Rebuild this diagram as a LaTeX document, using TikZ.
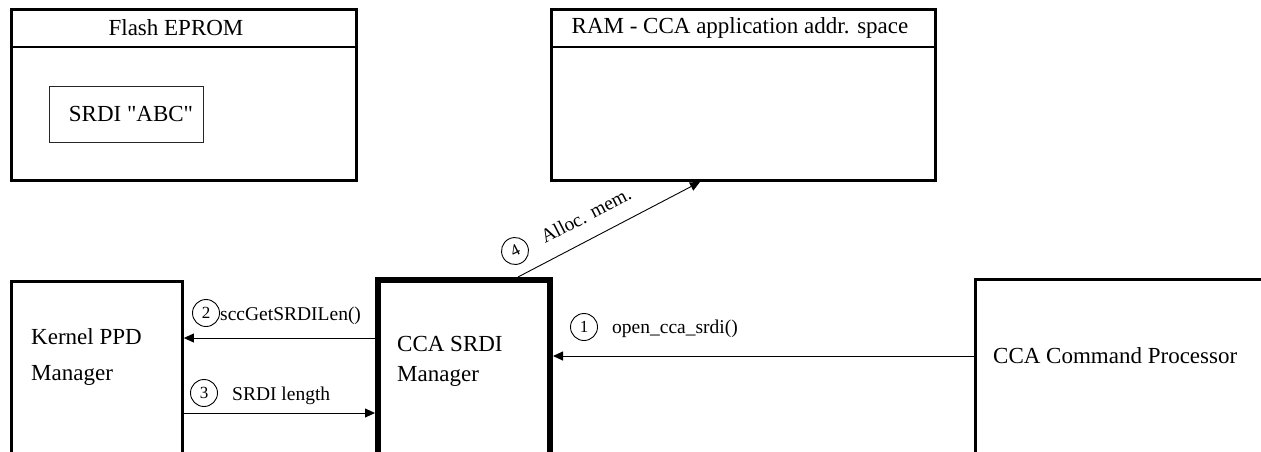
\documentclass[tikz,border=0pt]{standalone}
\usepackage{fontspec}
\setmainfont{Liberation Serif}
\usetikzlibrary{arrows.meta}
\begin{document}
\begin{tikzpicture}[x=1pt,y=-1pt,
  box/.style={draw,line width=2.8pt,inner sep=0pt},
  big/.style={font=\fontsize{23}{27}\selectfont,inner sep=0pt},
  lbl/.style={font=\fontsize{19.5}{23}\selectfont,inner sep=0pt},
  num/.style={circle,draw,line width=0.9pt,minimum size=27pt,inner sep=0pt,font=\fontsize{17}{19}\selectfont},
  arr/.style={line width=0.9pt,-{Triangle[length=10pt,width=9pt]}},
  hdr/.style={line width=1.5pt}
]
\useasboundingbox (0,0) rectangle (1261,451);
\clip (0,0) rectangle (1261,451);
% boxes
\node[box,minimum width=345pt,minimum height=171pt] (flash) at (184,95) {};
\node[box,minimum width=384pt,minimum height=171pt] (ram) at (743.5,95) {};
\node[draw,line width=1pt,draw=black!85,minimum width=154pt,minimum height=56pt,inner sep=0pt] (abc) at (126.5,114.5) {};
\node[box,minimum width=171pt,minimum height=190pt] (kernel) at (97,376.5) {};
\node[box,line width=6pt,minimum width=172pt,minimum height=190pt] (mgr) at (464,375) {};
\node[box,minimum width=300pt,minimum height=191pt] (cmd) at (1125.5,375) {};
% header lines
\coordinate (hy) at (0,47);
\draw[hdr] (flash.west |- hy) -- (flash.east |- hy);
\draw[hdr] (ram.west |- hy) -- (ram.east |- hy);
% texts
\node[big] (tflash) at (176,28) {Flash EPROM};
\node[big] (tram) at (740,28) {RAM - CCA application addr. space};
\node[big] (tabc) at (131,114) {SRDI \textquotedbl ABC\textquotedbl};
\node[big,anchor=base west] (tk1) at (31,344) {Kernel PPD};
\node[big,anchor=base west] (tk2) at (31,380) {Manager};
\node[big,anchor=base west] (tm1) at (397,351) {CCA SRDI};
\node[big,anchor=base west] (tm2) at (397,381) {Manager};
\node[big,anchor=base west] (tc) at (993,363) {CCA Command Processor};
% connectors
\coordinate (y1) at (0,356);
\coordinate (y2) at (0,338);
\coordinate (y3) at (0,413);
\coordinate (x4s) at (518,0);
\coordinate (x4e) at (700,0);
\draw[arr] (cmd.west |- y1) -- (mgr.east |- y1);
\draw[arr] (mgr.west |- y2) -- (kernel.east |- y2);
\draw[arr] (kernel.east |- y3) -- (mgr.west |- y3);
\draw[arr] (mgr.north -| x4s) -- (ram.south -| x4e);
% labels
\node[num] (n1) at (584,327) {1};
\node[lbl,anchor=base west] (l1) at (612,333) {open\_cca\_srdi()};
\node[num] (n2) at (206,313) {2};
\node[lbl,anchor=base west] (l2) at (220,320) {sccGetSRDILen()};
\node[num] (n3) at (204,393) {3};
\node[lbl,anchor=base west] (l3) at (232,400) {SRDI length};
\node[num,rotate=27.3] (n4) at (515,251) {4};
\node[lbl,anchor=base west,rotate=27.3] (l4) at (545,244) {Alloc. mem.};
\end{tikzpicture}
\end{document}
